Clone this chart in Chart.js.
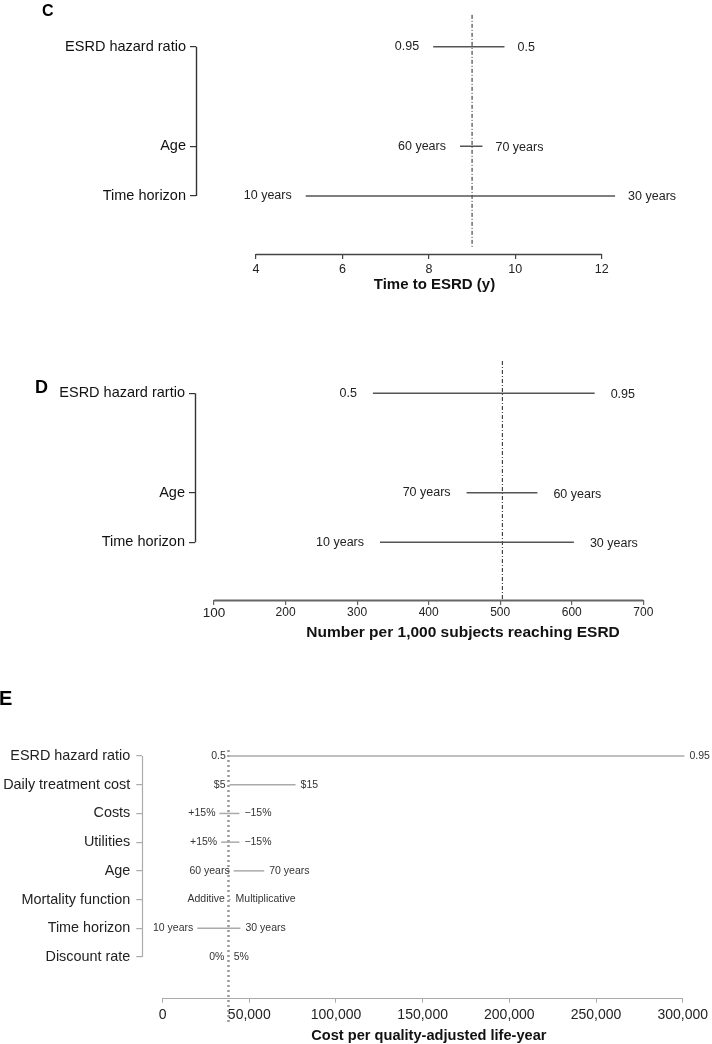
<!DOCTYPE html>
<html><head><meta charset="utf-8">
<script src="https://cdn.jsdelivr.net/npm/chart.js@4.4.1/dist/chart.umd.min.js"></script>
<style>
html,body{margin:0;padding:0;background:#fff;width:712px;height:1044px;overflow:hidden;}
canvas{position:absolute;left:0;}
</style></head><body>
<canvas id="cC" width="712" height="320" style="top:0px"></canvas>
<canvas id="cD" width="712" height="340" style="top:320px"></canvas>
<canvas id="cE" width="712" height="384" style="top:660px"></canvas>
<script>
// ---------- Panel C data ----------
const cCategories = ['ESRD hazard ratio', 'Age', 'Time horizon'];
const cRowPos = [3, 1, 0];
const cLow = [8.10, 8.72, 5.15];
const cHigh = [9.75, 9.24, 12.31];
const cLowLabels = ['0.95', '60 years', '10 years'];
const cHighLabels = ['0.5', '70 years', '30 years'];
const cBase = 9.0;
const cTicks = [4, 6, 8, 10, 12];
const cTickLabels = ['4', '6', '8', '10', '12'];
const cTitle = 'Time to ESRD (y)';

// ---------- Panel D data ----------
const dCategories = ['ESRD hazard rartio', 'Age', 'Time horizon'];
const dRowPos = [3, 1, 0];
const dLow = [322, 453, 332];
const dHigh = [632, 552, 603];
const dLowLabels = ['0.5', '70 years', '10 years'];
const dHighLabels = ['0.95', '60 years', '30 years'];
const dBase = 503;
const dTicks = [100, 200, 300, 400, 500, 600, 700];
const dTickLabels = ['100', '200', '300', '400', '500', '600', '700'];
const dTitle = 'Number per 1,000 subjects reaching ESRD';

// ---------- Panel E data ----------
const eCategories = ['ESRD hazard ratio', 'Daily treatment cost', 'Costs', 'Utilities', 'Age', 'Mortality function', 'Time horizon', 'Discount rate'];
const eRowPos = [7, 6, 5, 4, 3, 2, 1, 0];
const eLow = [38800, 38600, 32800, 33800, 41000, 38200, 20000, 37900];
const eHigh = [301000, 76700, 44300, 44300, 58600, 39200, 44900, 38100];
const eLowLabels = ['0.5', '$5', '+15%', '+15%', '60 years', 'Additive', '10 years', '0%'];
const eHighLabels = ['0.95', '$15', '\u221215%', '\u221215%', '70 years', 'Multiplicative', '30 years', '5%'];
const eBase = 38000;
const eTicks = [0, 50000, 100000, 150000, 200000, 250000, 300000];
const eTickLabels = ['0', '50,000', '100,000', '150,000', '200,000', '250,000', '300,000'];
const eTitle = 'Cost per quality-adjusted life-year';

const FAM = '"Liberation Sans", Arial, Helvetica, sans-serif';

function makePanel(id, d, L) {
  const datasets = d.rowPos.map((p, i) => ({
    data: [{x: d.low[i], y: p}, {x: d.high[i], y: p}],
    borderColor: L.lineColor, borderWidth: L.lineWidth, pointRadius: 0, pointHoverRadius: 0,
    fill: false, tension: 0, clip: false, borderCapStyle: 'butt'
  }));
  datasets.push({
    data: [{x: d.base, y: L.refTop}, {x: d.base, y: L.refBottom}],
    borderColor: L.refColor, borderWidth: L.refWidth, borderDash: L.refDash,
    pointRadius: 0, fill: false, clip: false, borderCapStyle: 'butt'
  });
  const deco = {
    id: 'deco_' + id,
    afterDraw(chart) {
      const ctx = chart.ctx, xs = chart.scales.x, ys = chart.scales.y, ca = chart.chartArea;
      ctx.save();
      // x axis line
      ctx.strokeStyle = L.axisColor; ctx.lineWidth = L.axisWidth;
      ctx.beginPath();
      const yb = Math.round(ca.bottom) + 0.5;
      ctx.moveTo(xs.getPixelForValue(d.ticks[0]), yb);
      ctx.lineTo(xs.getPixelForValue(d.ticks[d.ticks.length - 1]), yb);
      ctx.stroke();
      // y axis bracket
      ctx.strokeStyle = L.yAxisColor; ctx.lineWidth = L.yAxisWidth;
      const xl = Math.round(ca.left) + 0.5;
      ctx.beginPath();
      ctx.moveTo(xl, ys.getPixelForValue(Math.max(...d.rowPos)));
      ctx.lineTo(xl, ys.getPixelForValue(Math.min(...d.rowPos)));
      ctx.stroke();
      // end labels
      ctx.font = L.labelFont; ctx.fillStyle = L.labelColor; ctx.textBaseline = 'middle';
      d.rowPos.forEach((p, i) => {
        const y = ys.getPixelForValue(p);
        ctx.textAlign = 'right';
        ctx.fillText(d.lowLabels[i], xs.getPixelForValue(d.low[i]) - L.gapL, y);
        ctx.textAlign = 'left';
        ctx.fillText(d.highLabels[i], xs.getPixelForValue(d.high[i]) + L.gapR, y + L.rightDy);
      });
      // axis title
      ctx.font = L.titleFont; ctx.fillStyle = '#111'; ctx.textAlign = 'center';
      ctx.fillText(d.title, xs.getPixelForValue(L.titleCenter), L.titleY);
      // panel letter
      ctx.font = L.letterFont; ctx.fillStyle = '#000'; ctx.textAlign = 'left'; ctx.textBaseline = 'alphabetic';
      ctx.fillText(L.letter, L.letterX, L.letterY);
      ctx.restore();
    }
  };
  return new Chart(document.getElementById(id), {
    type: 'line',
    data: {datasets},
    options: {
      responsive: false, animation: false, events: [],
      layout: {autoPadding: false, padding: {left: 0, right: L.padRight, top: L.padTop, bottom: 0}},
      plugins: {legend: {display: false}, tooltip: {enabled: false}, title: {display: false}},
      scales: {
        x: {
          type: 'linear', min: L.xMin, max: L.xMax,
          afterBuildTicks: s => { s.ticks = d.ticks.map(v => ({value: v})); },
          afterFit: s => { s.height = L.xAxisHeight; },
          ticks: {autoSkip: false, maxRotation: 0, padding: L.xTickPad, color: L.tickColor,
            font: L.xTickFont, callback: (v, i) => d.tickLabels[i]},
          grid: {display: true, drawOnChartArea: false, drawTicks: true, tickLength: 5,
            color: L.axisColor, lineWidth: L.tickWidth},
          border: {display: false}
        },
        y: {
          type: 'linear', min: L.yMin, max: L.yMax,
          afterBuildTicks: s => { s.ticks = d.rowPos.map(v => ({value: v})); },
          afterFit: s => { s.width = L.yAxisW; },
          ticks: {autoSkip: false, padding: L.yTickPad, color: L.catColor,
            font: {family: FAM, size: L.catSize}, callback: (v, i) => d.categories[i]},
          grid: {display: true, drawOnChartArea: false, drawTicks: true, tickLength: 6,
            color: L.yAxisColor, lineWidth: 1.2},
          border: {display: false}
        }
      }
    },
    plugins: [deco]
  });
}

// Panel C
makePanel('cC', {categories: cCategories, rowPos: cRowPos, low: cLow, high: cHigh,
  lowLabels: cLowLabels, highLabels: cHighLabels, base: cBase, ticks: cTicks, tickLabels: cTickLabels, title: cTitle},
  {xMin: 2.611, xMax: 12, yMin: -1.165, yMax: 3.637, yAxisW: 196, padRight: 110.3, padTop: 15, xAxisHeight: 66,
   lineColor: '#555', lineWidth: 1.5, refColor: '#222', refWidth: 1, refDash: [4, 2, 1, 2], refTop: 3.64, refBottom: -1.02,
   axisColor: '#444', axisWidth: 1.3, tickWidth: 1.2, yAxisColor: '#333', yAxisWidth: 1.4,
   xTickPad: 3, tickColor: '#222', xTickFont: {family: FAM, size: 12.5}, yTickPad: 4, catColor: '#111', catSize: 14.5,
   labelFont: '12.5px ' + FAM, labelColor: '#222', gapL: 14, gapR: 13, rightDy: 1,
   titleFont: 'bold 15px ' + FAM, titleCenter: 8.13, titleY: 284.5,
   letter: 'C', letterFont: 'bold 16px ' + FAM, letterX: 42, letterY: 15.5});

// Panel D
makePanel('cD', {categories: dCategories, rowPos: dRowPos, low: dLow, high: dHigh,
  lowLabels: dLowLabels, highLabels: dHighLabels, base: dBase, ticks: dTicks, tickLabels: dTickLabels, title: dTitle},
  {xMin: 73.4, xMax: 700, yMin: -1.16, yMax: 3.65, yAxisW: 195, padRight: 68.7, padTop: 41, xAxisHeight: 60,
   lineColor: '#555', lineWidth: 1.5, refColor: '#222', refWidth: 1, refDash: [4, 2, 1, 2], refTop: 3.65, refBottom: -1.16,
   axisColor: '#666', axisWidth: 1.8, tickWidth: 1.2, yAxisColor: '#333', yAxisWidth: 1.4,
   xTickPad: 0, tickColor: '#222',
   xTickFont: ctx => (ctx.tick && ctx.tick.value === 100) ? {family: FAM, size: 13.5} : {family: '"Liberation Sans Narrow", ' + FAM, size: 12},
   yTickPad: 4, catColor: '#111', catSize: 14.5,
   labelFont: '12.5px ' + FAM, labelColor: '#222', gapL: 16, gapR: 16, rightDy: 1.5,
   titleFont: 'bold 15.5px ' + FAM, titleCenter: 448, titleY: 313,
   letter: 'D', letterFont: 'bold 18px ' + FAM, letterX: 35, letterY: 72.5});

// Panel E
makePanel('cE', {categories: eCategories, rowPos: eRowPos, low: eLow, high: eHigh,
  lowLabels: eLowLabels, highLabels: eHighLabels, base: eBase, ticks: eTicks, tickLabels: eTickLabels, title: eTitle},
  {xMin: -11710, xMax: 300000, yMin: -1.418, yMax: 7.21, yAxisW: 142.3, padRight: 26.7, padTop: 90, xAxisHeight: 46.3,
   lineColor: '#aaa', lineWidth: 1.5, refColor: '#999', refWidth: 2.5, refDash: [2, 3], refTop: 7.21, refBottom: -2.3,
   axisColor: '#aaa', axisWidth: 1.2, tickWidth: 1, yAxisColor: '#aaa', yAxisWidth: 1.2,
   xTickPad: 4, tickColor: '#222', xTickFont: {family: FAM, size: 14}, yTickPad: 6, catColor: '#222', catSize: 14.4,
   labelFont: '10.5px ' + FAM, labelColor: '#333', gapL: 4, gapR: 5, rightDy: 0,
   titleFont: 'bold 14.6px ' + FAM, titleCenter: 153600, titleY: 376,
   letter: 'E', letterFont: 'bold 20px ' + FAM, letterX: -1, letterY: 45});
</script>
</body></html>
